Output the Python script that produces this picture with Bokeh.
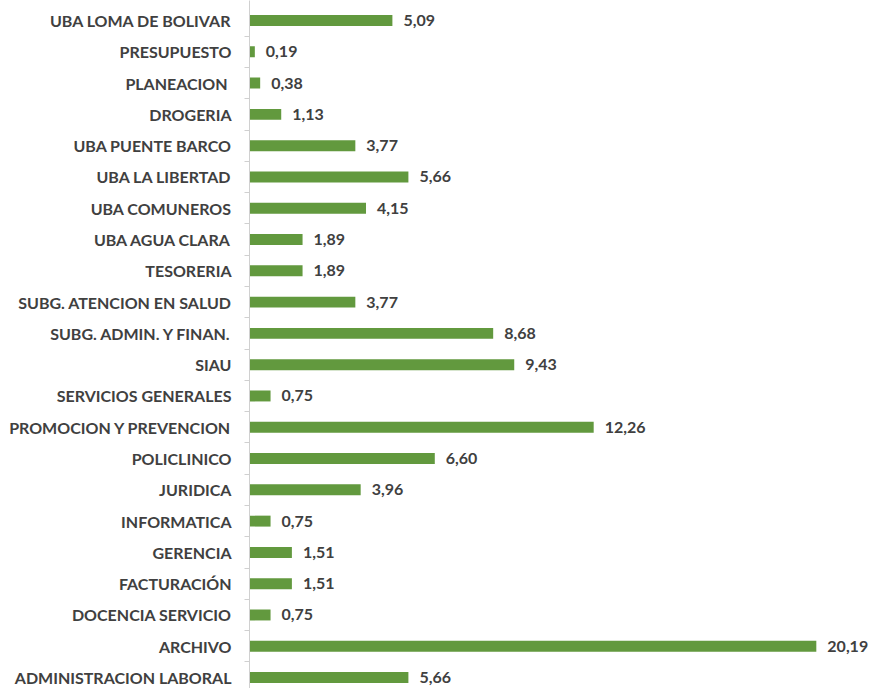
from bokeh.plotting import figure
from bokeh.models import Range1d, FixedTicker, ColumnDataSource
from bokeh.core.properties import value
from bokeh.embed import file_html
from bokeh.resources import INLINE

categories = [
    "UBA LOMA DE BOLIVAR", "PRESUPUESTO", "PLANEACION ", "DROGERIA", "UBA PUENTE BARCO",
    "UBA LA LIBERTAD", "UBA COMUNEROS", "UBA AGUA CLARA", "TESORERIA",
    "SUBG. ATENCION EN SALUD", "SUBG. ADMIN. Y FINAN.", "SIAU", "SERVICIOS GENERALES",
    "PROMOCION Y PREVENCION", "POLICLINICO", "JURIDICA", "INFORMATICA", "GERENCIA",
    "FACTURACIÓN", "DOCENCIA SERVICIO", "ARCHIVO", "ADMINISTRACION LABORAL",
]
values = [5.09, 0.19, 0.38, 1.13, 3.77, 5.66, 4.15, 1.89, 1.89, 3.77, 8.68, 9.43, 0.75,
          12.26, 6.60, 3.96, 0.75, 1.51, 1.51, 0.75, 20.19, 5.66]
value_labels = [f"{v:.2f}".replace(".", ",") for v in values]

n = len(categories)
ypos = [n - 1 - i + 0.5 for i in range(n)]

src = ColumnDataSource(dict(y=ypos, v=values, lab=value_labels, cat=categories))

p = figure(width=870, height=688, output_backend="svg", toolbar_location=None,
           x_range=Range1d(0, 22.12), y_range=Range1d(0.15, 22.14),
           min_border_left=249, min_border_right=0, min_border_top=0, min_border_bottom=0)

BAR = "#62993e"
TXT = "#404040"
FONT = "Lato"

p.hbar(y="y", right="v", left=0, height=0.35, source=src, fill_color=BAR, line_color=None)
p.text(x="v", y="y", text="lab", source=src, x_offset=11, text_align="left",
       text_baseline="middle", text_font=value(FONT), text_font_style="bold",
       text_font_size="16px", text_color=TXT)

p.xaxis.visible = False
p.xgrid.visible = False
p.ygrid.visible = False
p.outline_line_color = None

yax = p.yaxis[0]
yax.ticker = FixedTicker(ticks=ypos, minor_ticks=list(range(1, n)))
yax.major_label_overrides = {y: c for y, c in zip(ypos, categories)}
yax.major_tick_out = 0
yax.major_tick_in = 0
yax.minor_tick_out = 5
yax.minor_tick_in = 0
yax.minor_tick_line_color = "#d0d0d0"
yax.axis_line_color = "#d0d0d0"
yax.major_label_standoff = 13
yax.major_label_text_font = FONT
yax.major_label_text_font_style = "bold"
yax.major_label_text_font_size = "16px"
yax.major_label_text_color = TXT

open("out.html", "w").write(file_html(p, INLINE))
